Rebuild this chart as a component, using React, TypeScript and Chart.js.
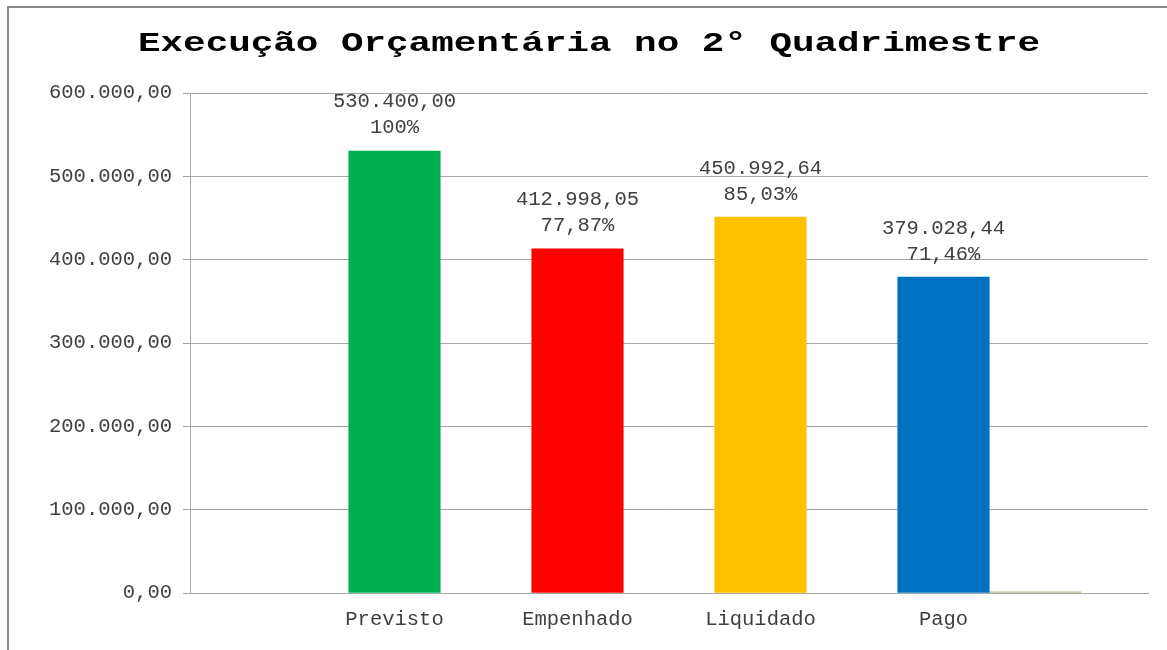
import { useEffect, useRef } from 'react';
import { Chart, registerables } from 'chart.js';

Chart.register(...registerables);

// ---- data ----
const chartTitle = 'Execução Orçamentária no 2° Quadrimestre';
const categories = ['Previsto', 'Empenhado', 'Liquidado', 'Pago'];
const categoryPositions = [1, 2, 3, 4];
const executionValues = [530400.0, 412998.05, 450992.64, 379028.44];
const percentLabels = ['100%', '77,87%', '85,03%', '71,46%'];
const barColors = ['#00B050', '#FF0000', '#FFC000', '#0070C0'];
const extraPositions = [4.5];
const extraValues = [1500];
const yMin = 0;
const yMax = 600000;
const yStep = 100000;

const FONT = "'Liberation Mono', 'Courier New', monospace";

function fmtBR(v: number): string {
  const fixed = v.toFixed(2);
  const [intPart, dec] = fixed.split('.');
  const withDots = intPart.replace(/\B(?=(\d{3})+(?!\d))/g, '.');
  return withDots + ',' + dec;
}

const framePlugin = {
  id: 'frameAndTitle',
  beforeDraw(chart: any) {
    const { ctx, width, height } = chart;
    ctx.save();
    ctx.fillStyle = '#ffffff';
    ctx.fillRect(0, 0, width, height);
    ctx.strokeStyle = '#888888';
    ctx.lineWidth = 2;
    ctx.beginPath();
    ctx.moveTo(8, height + 2);
    ctx.lineTo(8, 7);
    ctx.lineTo(width + 2, 7);
    ctx.stroke();
    // title
    ctx.font = `bold 27px ${FONT}`;
    const w = ctx.measureText(chartTitle).width;
    const targetW = 902;
    ctx.translate(589, 51);
    ctx.scale(targetW / w, 1);
    ctx.fillStyle = '#000000';
    ctx.textAlign = 'center';
    ctx.textBaseline = 'alphabetic';
    ctx.fillText(chartTitle, 0, 0);
    ctx.restore();
  },
};

const dataLabelPlugin = {
  id: 'dataLabels',
  afterDatasetsDraw(chart: any) {
    const { ctx } = chart;
    const meta = chart.getDatasetMeta(0);
    ctx.save();
    ctx.font = `20.5px ${FONT}`;
    ctx.fillStyle = '#404040';
    ctx.textAlign = 'center';
    ctx.textBaseline = 'middle';
    meta.data.forEach((el: any, i: number) => {
      const x = el.x;
      const top = el.y;
      ctx.fillText(fmtBR(executionValues[i]), x, top - 49);
      ctx.fillText(percentLabels[i], x, top - 23);
    });
    ctx.restore();
  },
};

export default function App() {
  const canvasRef = useRef<HTMLCanvasElement | null>(null);

  useEffect(() => {
    document.body.style.margin = '0';
    const canvas = canvasRef.current;
    if (!canvas) return;
    const chart = new Chart(canvas, {
      type: 'bar',
      data: {
        datasets: [
          {
            label: 'Execução',
            data: categoryPositions.map((x, i) => ({ x, y: executionValues[i] })),
            backgroundColor: barColors,
            borderWidth: 0,
            grouped: false,
            categoryPercentage: 1,
            barPercentage: 1,
          } as any,
          {
            label: 'Outros',
            data: extraPositions.map((x, i) => ({ x, y: extraValues[i] })),
            backgroundColor: '#A9C08A',
            borderWidth: 0,
            grouped: false,
            categoryPercentage: 1,
            barPercentage: 1,
          } as any,
        ],
      },
      options: {
        responsive: false,
        animation: false,
        devicePixelRatio: 1,
        layout: { padding: { top: 93, right: 19, left: 0, bottom: 0 } },
        plugins: {
          legend: { display: false },
          title: { display: false },
          tooltip: { enabled: false },
        },
        scales: {
          x: {
            type: 'linear',
            offset: false,
            min: -0.1175,
            max: 5.1175,
            grid: { display: false, drawTicks: false, offset: false },
            border: { display: true, color: '#a6a6a6' },
            afterBuildTicks: (scale: any) => {
              scale.ticks = categoryPositions.map((v) => ({ value: v }));
            },
            afterFit: (scale: any) => {
              scale.height = 57;
            },
            ticks: {
              autoSkip: false,
              maxRotation: 0,
              padding: 14,
              color: '#404040',
              font: { family: FONT, size: 20.5 },
              callback: (value: any) => {
                const idx = categoryPositions.indexOf(Number(value));
                return idx >= 0 ? categories[idx] : '';
              },
            },
          },
          y: {
            type: 'linear',
            min: yMin,
            max: yMax,
            grid: { color: '#a6a6a6', lineWidth: 1, tickLength: 7, drawTicks: true },
            border: { display: true, color: '#a6a6a6' },
            afterFit: (scale: any) => {
              scale.width = 190;
            },
            ticks: {
              stepSize: yStep,
              padding: 11,
              color: '#404040',
              font: { family: FONT, size: 20.5 },
              callback: (value: any) => fmtBR(Number(value)),
            },
          },
        },
      } as any,
      plugins: [framePlugin, dataLabelPlugin],
    });
    return () => chart.destroy();
  }, []);

  return (
    <div style={{ position: 'absolute', left: 0, top: 0, width: 1167, height: 650 }}>
      <canvas ref={canvasRef} width={1167} height={650} />
    </div>
  );
}
